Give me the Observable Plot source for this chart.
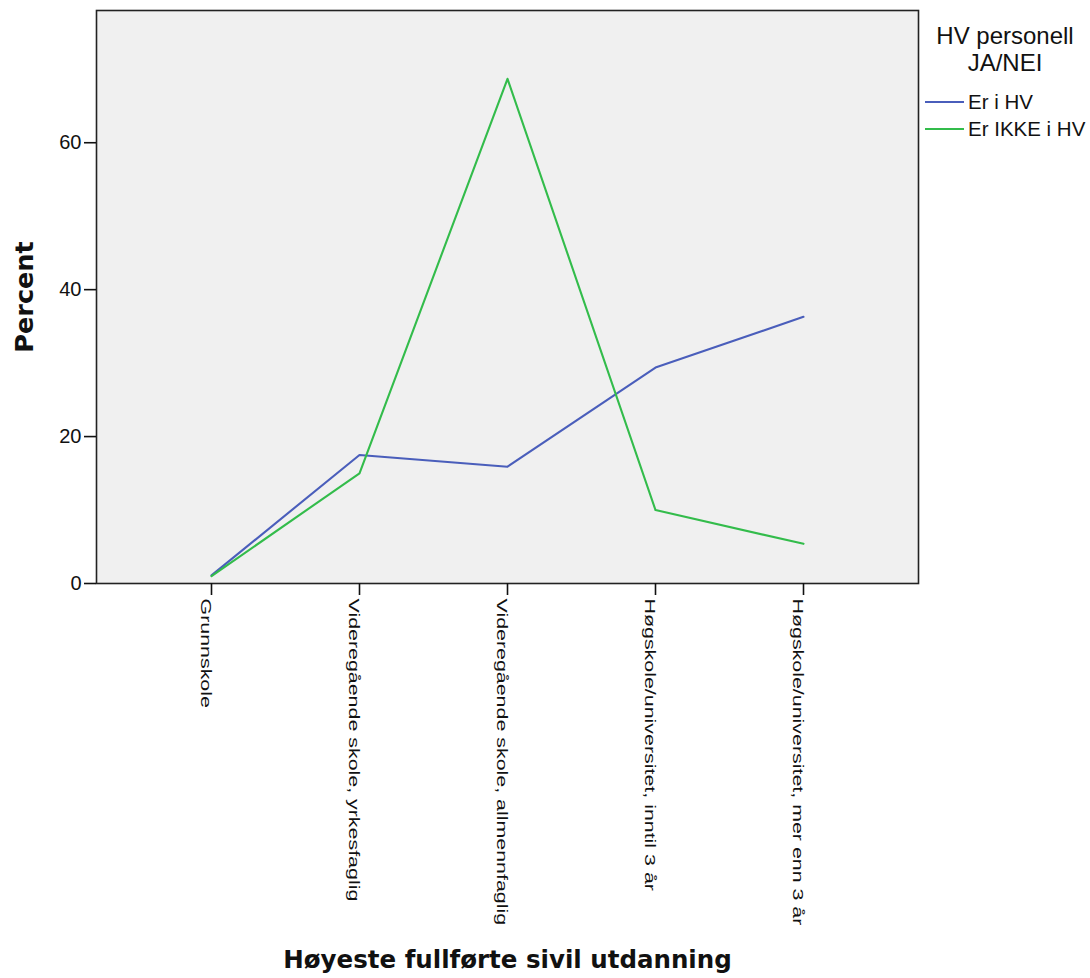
<!DOCTYPE html>
<html>
<head>
<meta charset="utf-8">
<script src="https://cdn.jsdelivr.net/npm/d3@7"></script>
<script src="https://cdn.jsdelivr.net/npm/@observablehq/plot@0.6"></script>
<style>
  html, body { margin: 0; padding: 0; background: #fff; }
  #wrap { position: relative; width: 1090px; height: 978px; font-family: "Liberation Sans", Arial, sans-serif; color: #111; }
  #legend-title { position: absolute; left: 920px; top: 22px; width: 170px; text-align: center; font-size: 24px; line-height: 27px; }
  #legend-items { position: absolute; left: 925px; top: 88px; }
  .row { display: flex; align-items: center; height: 27px; font-size: 20.5px; }
  .sw { width: 39px; height: 2px; margin-right: 4px; }
</style>
</head>
<body>
<div id="wrap"></div>
<script>
const categories = [
  "Grunnskole",
  "Videregående skole, yrkesfaglig",
  "Videregående skole, allmennfaglig",
  "Høgskole/universitet, inntil 3 år",
  "Høgskole/universitet, mer enn 3 år"
];
const seriesNames = ["Er i HV", "Er IKKE i HV"];
const erIHV = [1.1, 17.5, 15.9, 29.4, 36.3];
const erIkkeIHV = [1.0, 15.0, 68.7, 10.0, 5.4];
const seriesColors = ["#4a5ebb", "#33bc4b"];
const yTicks = [0, 20, 40, 60];
const legendTitle = ["HV personell", "JA/NEI"];
const xTitle = "Høyeste fullførte sivil utdanning";
const yTitle = "Percent";

const data = [];
[erIHV, erIkkeIHV].forEach((vals, s) => {
  vals.forEach((v, i) => data.push({category: categories[i], value: v, series: seriesNames[s]}));
});

const chart = Plot.plot({
  width: 1090,
  height: 978,
  marginLeft: 96,
  marginRight: 172,
  marginTop: 10,
  marginBottom: 395,
  style: {fontFamily: "'Liberation Sans', Arial, sans-serif", color: "#111", background: "#fff"},
  x: {type: "point", domain: categories, padding: 0.77, label: null},
  y: {domain: [0, 78], label: null},
  color: {domain: seriesNames, range: seriesColors},
  marks: [
    Plot.frame({fill: "#f0f0f0"}),
    Plot.lineY(data, {x: "category", y: "value", z: "series", stroke: "series", strokeWidth: 2.1}),
    Plot.frame({stroke: "#222", strokeWidth: 1.6}),
    Plot.axisY({ticks: yTicks, tickSize: 12, tickPadding: 3, fontSize: 20, strokeWidth: 1.6, label: null}),
    Plot.axisX({tickSize: 12, tickPadding: 3, tickRotate: 90, lineAnchor: "top", fontSize: 21.4, strokeWidth: 1.6, label: null}),
    Plot.text([yTitle], {text: d => d, frameAnchor: "left", textAnchor: "middle", dx: -72, rotate: -90, fontSize: 25.5, fontWeight: "bold", fontFamily: "DejaVu Sans", fill: "#111"}),
    Plot.text([xTitle], {text: d => d, frameAnchor: "bottom", textAnchor: "middle", dy: 384, fontSize: 24.5, fontWeight: "bold", fontFamily: "DejaVu Sans", fill: "#111"})
  ]
});

// compress the rotated x tick labels across their height, as in the reference
chart.querySelectorAll('g[aria-label="x-axis tick label"] text').forEach(t => {
  const tr = t.getAttribute("transform") || "";
  t.setAttribute("transform", tr + " scale(1,0.71)");
});

const wrap = document.getElementById("wrap");
wrap.appendChild(chart);

const lt = document.createElement("div");
lt.id = "legend-title";
lt.innerHTML = legendTitle.join("<br>");
wrap.appendChild(lt);

const li = document.createElement("div");
li.id = "legend-items";
seriesNames.forEach((name, i) => {
  const row = document.createElement("div");
  row.className = "row";
  const sw = document.createElement("div");
  sw.className = "sw";
  sw.style.background = seriesColors[i];
  const tx = document.createElement("span");
  tx.textContent = name;
  row.appendChild(sw);
  row.appendChild(tx);
  li.appendChild(row);
});
wrap.appendChild(li);
</script>
</body>
</html>
